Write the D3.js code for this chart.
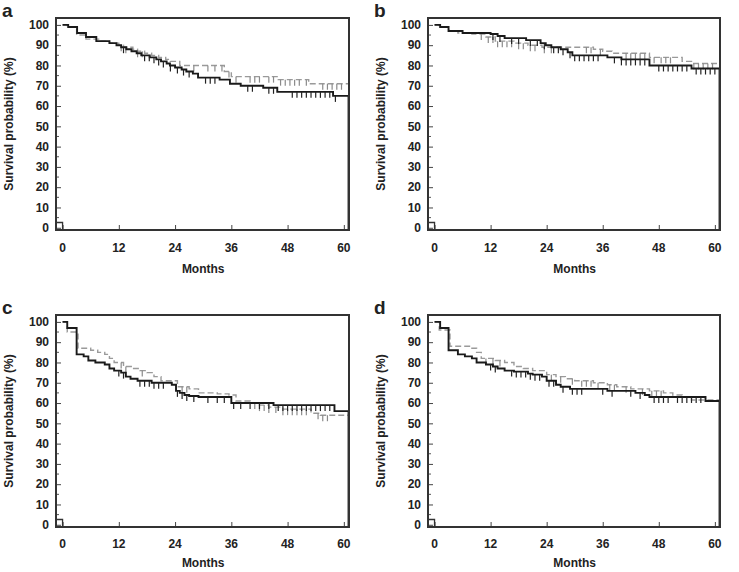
<!DOCTYPE html>
<html><head><meta charset="utf-8">
<script src="https://cdn.jsdelivr.net/npm/d3@7"></script>
<style>body{margin:0;background:#fff}svg{display:block}text{font-family:"Liberation Sans",Arial,sans-serif;font-weight:bold;fill:#222}</style>
</head><body><svg id="c" width="739" height="572"></svg>
<script>
// ---- data ----
const panelLabels = ["a","b","c","d"];
const xTicks = [0,12,24,36,48,60];
const yTicks = [0,10,20,30,40,50,60,70,80,90,100];
const xTitle = "Months";
const yTitle = "Survival probability (%)";
const endTime = 61;

const aSolidT = [0,1.2,3.1,5,7.2,10,11.5,12.5,13.6,14.7,15.8,16.8,18.6,20,21,22.2,22.9,24,25.4,26.4,27.8,28.9,33.5,35.7,38,42.8,45.8,57.7];
const aSolidS = [100,99,96,94,92,91,90,89,88,87,86,85,84,83,82,81,80,79,78,77,76,74,73,71,70,69,67,65];
const aSolidC = [13,17.5,18.5,19.5,20.5,21.5,23,24.5,25.8,27,30.5,31.5,32.5,39.5,40.5,44,45,49,50,51,52,53,54,55,56,57,58.2];
const aDashT = [0,1,3,5,8,10,12,13,15,16,17.5,19,20.5,22,23,25,34.5,36,46,52.5];
const aDashS = [100,99,95,93,92,91,90,89,88,87,86,85,84,83,82,80,77,74.5,73,71];
const aDashC = [12.5,13.5,16,17,28,31,32.5,34,35.5,37,40,41,42,44,45,46.5,47.5,48.5,49.5,50.5,52,55.5,56.5,57.5,58.5,59.5];

const bSolidT = [0,1.2,3,6,12,13.5,15,19.6,22.7,23.8,25,27,28.5,29.5,37,40,46,55];
const bSolidS = [100,99,97,96,95.5,94.5,93.5,92.5,91,90,89,88,86.5,85,84,83,80,78.5];
const bSolidC = [12.5,14,16.5,18,20.5,22,23.5,25.5,26.5,27.5,29,30,31,32,33,34,35,38.5,40,41,42,43,44,45,48,49,50,51,52,53,54,56,57,58,59,60];
const bDashT = [0,1,3,5,8,11,13,17,20,23,34,36,38,46,53,55];
const bDashS = [100,99,97,96,95.5,94,92,91,90,89,88,87,86,84,82,81];
const bDashC = [10,11.5,12.5,13.5,14.5,15.5,16.5,18,19,20.5,21.5,23.5,25,32.5,33.5,35.5,41,42,43,44,45,47,48.5,49.5,50.5,55.5,56.5,57.5,58.5,59.5];

const cSolidT = [0,1,3,4.5,5.5,7,9,10,11,12.5,13.5,14.5,16,19,23.3,24.2,25,26,27,29,36,45,58];
const cSolidS = [100,97,84,83,81,80,79,77,76,75,73,72,71,70,69,66,65,64,63.5,63,60,59,56];
const cSolidC = [12,13,16.5,17.5,18.5,19.5,20.5,21.5,24.5,25.5,26.5,28,31,33,34.5,36.5,38,40,42,44,46,47,48,49,50,51,52,53,54,55,56,57];
const cDashT = [0,1,3.3,6,7.5,9,10,11,13,15,16.5,18,19.5,21,24.5,27,29,33,35.5,37,40,42,44,47,53,55];
const cDashS = [100,95,87,86,85,84,82,80,78,77,76,75,73,71,68,67,65,64.5,64,61,60,59,58,57,55,54];
const cDashC = [12.5,13.5,17,25.5,26.5,41,42,43,44,45.5,47,48,49,50,51,52,54.5,55.5,56.5];

const dSolidT = [0,1.2,3,5,6.5,8,9,11,12.5,13.5,15,17,20,21,23,24,26,27,29,37,43,45,46,58];
const dSolidS = [100,97,86,84,83,82,80,79,78,77,76,75.5,74.5,74,73,71,69,68,67,66,65,64,63,61];
const dSolidC = [12,13,16.5,17.5,18.5,19.5,20.5,21.5,22.5,24.5,25.5,27.5,29.5,30.5,31.5,36,38,42,44,47,48,49,50,52,53,54,55,56,57];
const dDashT = [0,1,3.3,8,9,10,13,15,17,19,21,24,26,28,30,34,37,39,42,46,49,51,53,55];
const dDashS = [100,96,88,87,85,82,81,80,78,77,76,74,73,72,71,70,69,68,67,66,65,64,63,61.5];
const dDashC = [11,12.5,14,25,27,29.5,31.5,32.5,33.5,35,37.5,38.5,41,44.5,46.5,47.5,48.5];

const panels = [
  {label:"a", left:56, top:18, w:293, h:212, lab:22, tit:43, solid:[aSolidT,aSolidS,aSolidC], dash:[aDashT,aDashS,aDashC]},
  {label:"b", left:428, top:18, w:292, h:212, lab:22, tit:43, solid:[bSolidT,bSolidS,bSolidC], dash:[bDashT,bDashS,bDashC]},
  {label:"c", left:56, top:315, w:293, h:212, lab:20.5, tit:40, solid:[cSolidT,cSolidS,cSolidC], dash:[cDashT,cDashS,cDashC]},
  {label:"d", left:428, top:315, w:292, h:212, lab:20.5, tit:40, solid:[dSolidT,dSolidS,dSolidC], dash:[dDashT,dDashS,dDashC]}
];

const svg = d3.select("#c");

function stepAt(T,S,t){ let v=S[0]; for(let i=0;i<T.length;i++){ if(T[i]<=t) v=S[i]; } return v; }

panels.forEach(p=>{
  const g = svg.append("g").attr("transform",`translate(${p.left},${p.top})`);
  const x = d3.scaleLinear().domain([-1.4,61.1]).range([0,p.w]);
  const y = d3.scaleLinear().domain([-1.1,103.4]).range([p.h,0]);

  // panel letter
  svg.append("text").attr("x",p.left-54).attr("y",p.top-1).attr("font-size",19).text(p.label);

  // y ticks inside
  const yAxis = d3.axisRight(y).tickValues(yTicks).tickSize(5).tickFormat("");
  const ya = g.append("g").call(yAxis);
  ya.select(".domain").remove();
  ya.selectAll("line").attr("stroke","#444");
  const yMinor = d3.range(5,100,10);
  g.selectAll(".ymin").data(yMinor).join("line").attr("x1",0).attr("x2",3)
    .attr("y1",d=>y(d)).attr("y2",d=>y(d)).attr("stroke","#555");
  g.selectAll(".ylab").data(yTicks).join("text").attr("x",-7).attr("y",d=>y(d)+4.3)
    .attr("text-anchor","end").attr("font-size",12).text(d=>d);

  // x ticks inside
  const xAxis = d3.axisTop(x).tickValues(xTicks).tickSize(5).tickFormat("");
  const xa = g.append("g").attr("transform",`translate(0,${p.h})`).call(xAxis);
  xa.select(".domain").remove();
  xa.selectAll("line").attr("stroke","#444");
  g.selectAll(".xlab").data(xTicks).join("text").attr("x",d=>x(d)).attr("y",p.h+p.lab)
    .attr("text-anchor","middle").attr("font-size",12).text(d=>d);

  g.append("text").attr("x",x(30)).attr("y",p.h+p.tit).attr("text-anchor","middle").attr("font-size",12).text(xTitle);
  svg.append("text").attr("transform",`translate(${p.left-43},${p.top+p.h/2}) rotate(-90)`)
    .attr("text-anchor","middle").attr("font-size",12).attr("fill","#333").text(yTitle);

  const line = d3.line().x(d=>x(d[0])).y(d=>y(d[1])).curve(d3.curveStepAfter);

  // dashed curve
  const [dT,dS,dC] = p.dash;
  const dPts = dT.map((t,i)=>[t,dS[i]]).concat([[endTime,dS[dS.length-1]]]);
  g.append("path").attr("d",line(dPts)).attr("fill","none").attr("stroke","#9a9a9a")
    .attr("stroke-width",1.4).attr("stroke-dasharray","6,3");
  g.selectAll(".dc").data(dC).join("line")
    .attr("x1",d=>x(d)).attr("x2",d=>x(d))
    .attr("y1",d=>y(stepAt(dT,dS,d))).attr("y2",d=>y(stepAt(dT,dS,d))+6)
    .attr("stroke","#8a8a8a").attr("stroke-width",1.2);

  // solid curve
  const [sT,sS,sC] = p.solid;
  const sPts = sT.map((t,i)=>[t,sS[i]]).concat([[endTime,sS[sS.length-1]],[endTime,-1.1]]);
  g.append("path").attr("d",line(sPts)).attr("fill","none").attr("stroke","#1a1a1a").attr("stroke-width",1.9);
  g.selectAll(".sc").data(sC).join("line")
    .attr("x1",d=>x(d)).attr("x2",d=>x(d))
    .attr("y1",d=>y(stepAt(sT,sS,d))).attr("y2",d=>y(stepAt(sT,sS,d))+6)
    .attr("stroke","#222").attr("stroke-width",1.2);

  // small box at origin
  g.append("path").attr("d",`M${x(-1.4)},${y(2.6)}H${x(0)}V${y(-1.1)}`).attr("fill","none").attr("stroke","#333").attr("stroke-width",1.3);

  // frame
  g.append("rect").attr("x",0).attr("y",0).attr("width",p.w).attr("height",p.h)
    .attr("fill","none").attr("stroke","#333").attr("stroke-width",2);
});
</script></body></html>
